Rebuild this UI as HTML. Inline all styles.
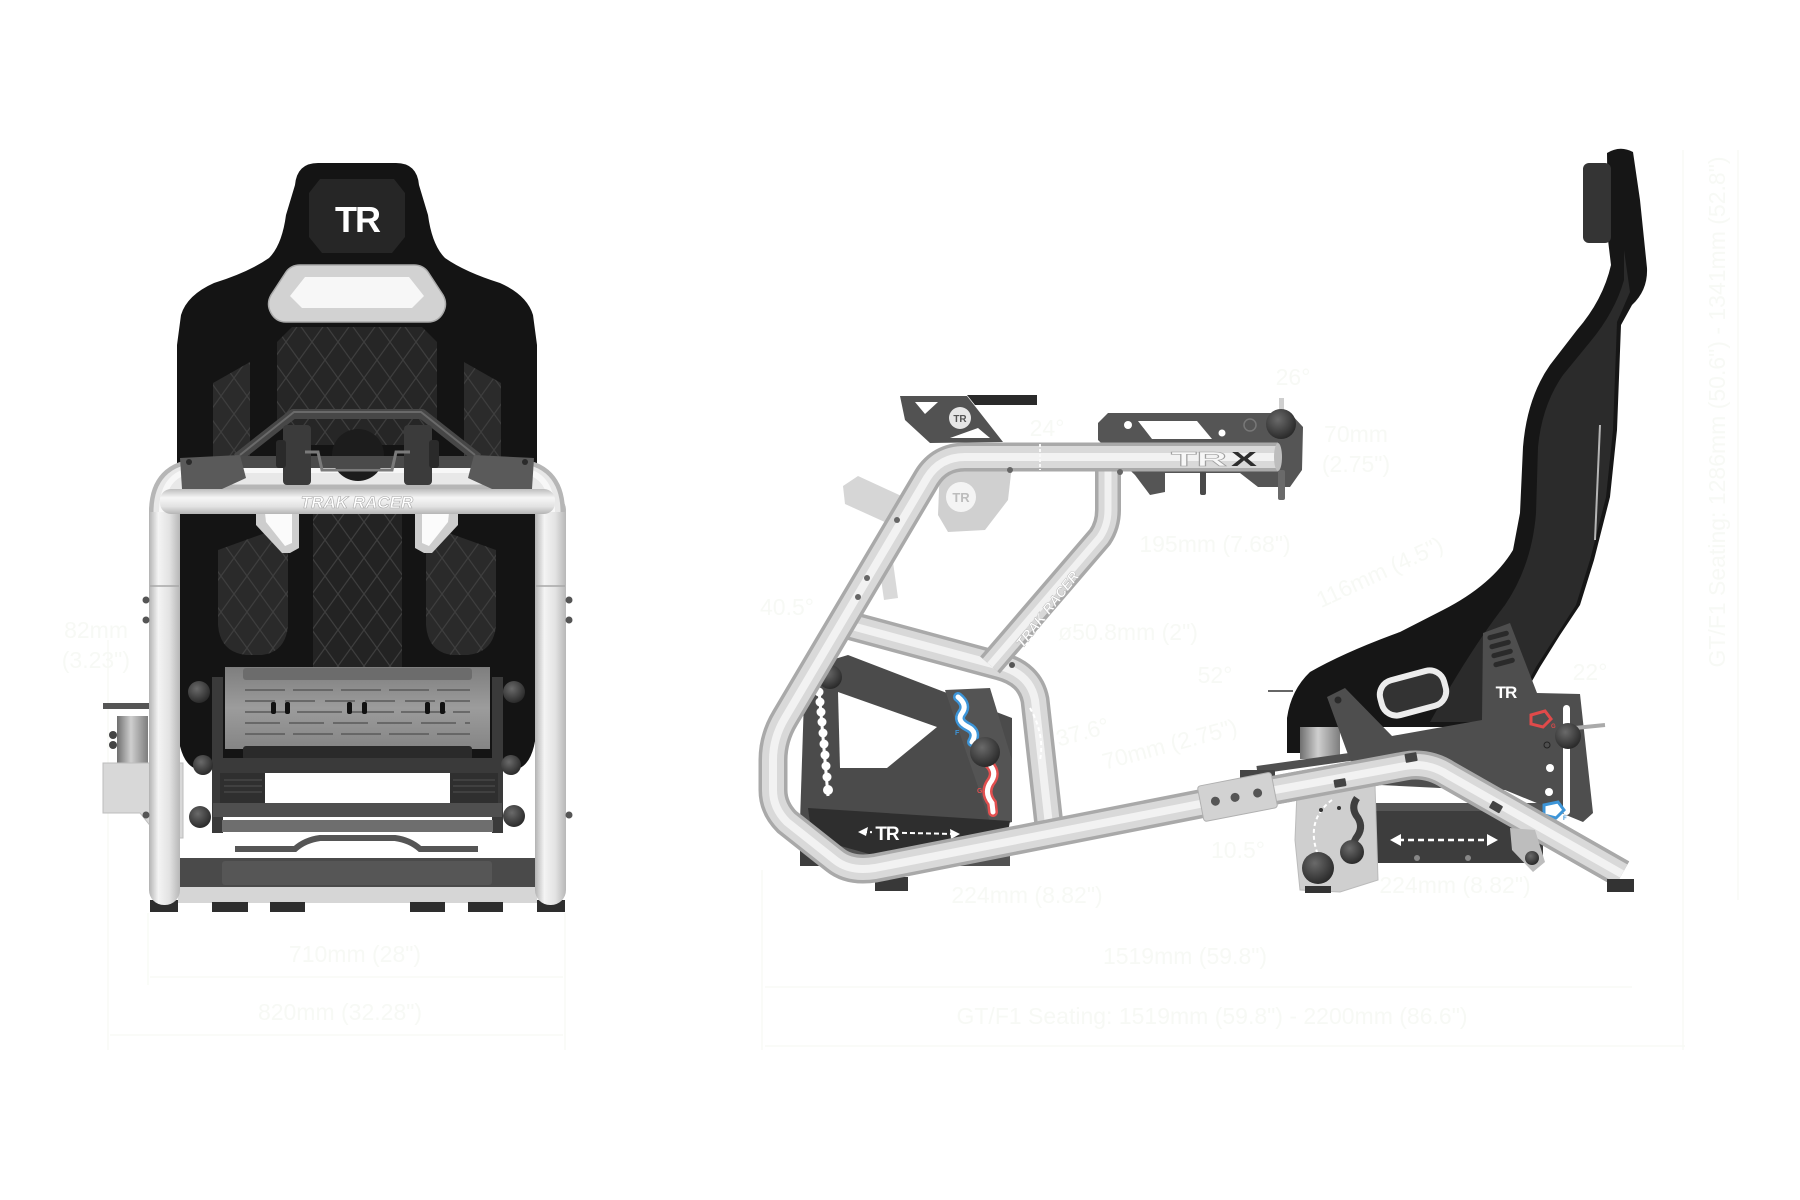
<!DOCTYPE html>
<html>
<head>
<meta charset="utf-8">
<style>
html,body{margin:0;padding:0;background:#ffffff;}
svg{display:block;}
.dim{font-family:"Liberation Sans",sans-serif;fill:#f7f9f5;}
</style>
</head>
<body>
<svg width="1800" height="1200" viewBox="0 0 1800 1200" xmlns="http://www.w3.org/2000/svg">
<defs>
  <linearGradient id="tv" x1="0" x2="1" y1="0" y2="0">
    <stop offset="0" stop-color="#b3b3b3"/><stop offset="0.3" stop-color="#f4f4f4"/>
    <stop offset="0.65" stop-color="#e3e3e3"/><stop offset="1" stop-color="#b7b7b7"/>
  </linearGradient>
  <linearGradient id="th" x1="0" x2="0" y1="0" y2="1">
    <stop offset="0" stop-color="#bdbdbd"/><stop offset="0.35" stop-color="#f6f6f6"/>
    <stop offset="0.7" stop-color="#e2e2e2"/><stop offset="1" stop-color="#b5b5b5"/>
  </linearGradient>
  <linearGradient id="cyl" x1="0" x2="1" y1="0" y2="0">
    <stop offset="0" stop-color="#6f6f6f"/><stop offset="0.45" stop-color="#cfcfcf"/><stop offset="1" stop-color="#7d7d7d"/>
  </linearGradient>
  <linearGradient id="plate" x1="0" x2="0" y1="0" y2="1">
    <stop offset="0" stop-color="#7e7e7e"/><stop offset="0.5" stop-color="#9c9c9c"/><stop offset="1" stop-color="#858585"/>
  </linearGradient>
  <radialGradient id="knob" cx="0.4" cy="0.35" r="0.7">
    <stop offset="0" stop-color="#6a6a6a"/><stop offset="1" stop-color="#262626"/>
  </radialGradient>
  <pattern id="q" width="26" height="36" patternUnits="userSpaceOnUse">
    <path d="M0,18 L13,0 L26,18 L13,36 Z" fill="none" stroke="#3e3e3e" stroke-width="1.2"/>
  </pattern>
  <path id="pA" d="M 1278,457 L 965,457 Q 940,457 927,478 L 785,718 Q 773,738 773,760 L 773,790 Q 773,808 787,822 L 835,860 Q 850,872 875,868 L 1210,802"/>
  <path id="pB" d="M 1108,458 L 1108,510 Q 1108,525 1100,537 L 990,665"/>
  <path id="pC" d="M 848,625 L 1000,666 Q 1030,674 1035,700 L 1050,834"/>
  <path id="pD" d="M 1205,803 L 1405,766 Q 1428,762 1448,775 L 1622,874"/>
</defs>

<rect width="1800" height="1200" fill="#ffffff"/>

<!-- ===================== FAINT DIMENSIONS ===================== -->
<g stroke="#f8faf6" stroke-width="1.5" fill="none">
  <line x1="108" y1="640" x2="108" y2="1050"/>
  <line x1="148" y1="913" x2="148" y2="985"/>
  <line x1="565" y1="913" x2="565" y2="1050"/>
  <line x1="150" y1="977" x2="563" y2="977"/>
  <line x1="110" y1="1035" x2="563" y2="1035"/>
  <line x1="762" y1="870" x2="762" y2="1050"/>
  <line x1="765" y1="987" x2="1632" y2="987"/>
  <line x1="765" y1="1046" x2="1685" y2="1046"/>
  <line x1="1683" y1="150" x2="1683" y2="1050"/>
  <line x1="1738" y1="150" x2="1738" y2="900"/>
</g>
<g class="dim" font-size="23">
  <text x="128" y="638" text-anchor="end">82mm</text>
  <text x="130" y="668" text-anchor="end">(3.23")</text>
  <text x="355" y="962" text-anchor="middle">710mm (28")</text>
  <text x="340" y="1020" text-anchor="middle">820mm (32.28")</text>
  <text x="1185" y="964" text-anchor="middle">1519mm (59.8")</text>
  <text x="1212" y="1024" text-anchor="middle">GT/F1 Seating: 1519mm (59.8") - 2200mm (86.6")</text>
  <text x="1293" y="385" text-anchor="middle">26°</text>
  <text x="1047" y="436" text-anchor="middle">24°</text>
  <text x="1356" y="442" text-anchor="middle">70mm</text>
  <text x="1356" y="472" text-anchor="middle">(2.75")</text>
  <text x="1215" y="552" text-anchor="middle">195mm (7.68")</text>
  <text x="1380" y="580" text-anchor="middle" transform="rotate(-25 1380 573)">116mm (4.5")</text>
  <text x="787" y="615" text-anchor="middle">40.5°</text>
  <text x="1128" y="640" text-anchor="middle">ø50.8mm (2")</text>
  <text x="1215" y="683" text-anchor="middle">52°</text>
  <text x="1082" y="740" text-anchor="middle" transform="rotate(-15 1082 730)">37.6°</text>
  <text x="1170" y="752" text-anchor="middle" transform="rotate(-15 1170 745)">70mm (2.75")</text>
  <text x="1238" y="858" text-anchor="middle">10.5°</text>
  <text x="1590" y="680" text-anchor="middle">22°</text>
  <text x="1027" y="903" text-anchor="middle">224mm (8.82")</text>
  <text x="1455" y="893" text-anchor="middle">224mm (8.82")</text>
  <text x="1733" y="420" text-anchor="middle" transform="rotate(-90 1725 420)">GT/F1 Seating: 1286mm (50.6") - 1341mm (52.8")</text>
</g>

<!-- ===================== FRONT VIEW ===================== -->
<g id="front">
  <path d="M 318,163 L 396,163 Q 417,163 419,185 L 428,215 Q 432,245 445,258 Q 465,272 500,283 Q 527,295 533,315 L 537,345 L 537,720 Q 536,760 520,768 L 194,768 Q 178,760 177,720 L 177,345 L 181,315 Q 187,295 214,283 Q 249,272 269,258 Q 282,245 286,215 L 295,185 Q 297,163 318,163 Z" fill="#141414"/>
  <polygon points="320,179 394,179 405,193 405,237 392,253 322,253 309,237 309,193" fill="#262626"/>
  <text x="357" y="232" text-anchor="middle" font-family="Liberation Sans, sans-serif" font-weight="bold" font-size="36" fill="#ffffff" letter-spacing="-2">TR</text>
  <path d="M 300,265 L 414,265 Q 423,265 428,272 L 443,295 Q 448,304 443,313 Q 438,322 428,322 L 286,322 Q 276,322 271,313 Q 266,304 271,295 L 286,272 Q 291,265 300,265 Z" fill="#d2d2d2" stroke="#aaaaaa" stroke-width="1.5"/>
  <path d="M 305,277 L 409,277 L 424,296 L 412,308 L 302,308 L 290,296 Z" fill="#f7f7f7"/>
  <path d="M 292,327 L 422,327 L 437,342 L 437,420 L 415,445 L 299,445 L 277,420 L 277,342 Z" fill="#262626"/>
  <path d="M 292,327 L 422,327 L 437,342 L 437,420 L 415,445 L 299,445 L 277,420 L 277,342 Z" fill="url(#q)"/>
  <path d="M 213,383 L 250,362 L 250,478 L 213,490 Z" fill="#2b2b2b"/>
  <path d="M 213,383 L 250,362 L 250,478 L 213,490 Z" fill="url(#q)"/>
  <path d="M 501,383 L 464,362 L 464,478 L 501,490 Z" fill="#2b2b2b"/>
  <path d="M 501,383 L 464,362 L 464,478 L 501,490 Z" fill="url(#q)"/>
  <rect x="313" y="513" width="89" height="154" fill="#232323"/>
  <rect x="313" y="513" width="89" height="154" fill="url(#q)"/>
  <path d="M 218,550 L 268,532 Q 280,532 288,545 L 288,625 Q 286,652 262,655 L 246,655 Q 220,652 218,625 Z" fill="#2a2a2a"/>
  <path d="M 218,550 L 268,532 Q 280,532 288,545 L 288,625 Q 286,652 262,655 L 246,655 Q 220,652 218,625 Z" fill="url(#q)"/>
  <path d="M 496,550 L 446,532 Q 434,532 426,545 L 426,625 Q 428,652 452,655 L 468,655 Q 494,652 496,625 Z" fill="#2a2a2a"/>
  <path d="M 496,550 L 446,532 Q 434,532 426,545 L 426,625 Q 428,652 452,655 L 468,655 Q 494,652 496,625 Z" fill="url(#q)"/>
  <polygon points="256,513 299,513 299,548 290,553 282,553 256,525" fill="#cdcdcd"/>
  <polygon points="265,513 292,513 292,543 285,546 266,522" fill="#fbfbfb"/>
  <polygon points="458,513 415,513 415,548 424,553 432,553 458,525" fill="#cdcdcd"/>
  <polygon points="449,513 422,513 422,543 429,546 448,522" fill="#fbfbfb"/>

  <rect x="212" y="677" width="11" height="156" fill="#3a3a3a"/>
  <rect x="492" y="677" width="11" height="156" fill="#3a3a3a"/>
  <rect x="225" y="667" width="265" height="82" fill="url(#plate)"/>
  <rect x="243" y="668" width="229" height="12" rx="3" fill="#6c6c6c"/>
  <g stroke="#5a5a5a" stroke-width="1.5">
    <line x1="245" y1="690" x2="470" y2="690" stroke-dasharray="40 8"/>
    <line x1="245" y1="701" x2="470" y2="701" stroke-dasharray="30 10"/>
    <line x1="245" y1="712" x2="470" y2="712" stroke-dasharray="45 7"/>
    <line x1="245" y1="723" x2="470" y2="723" stroke-dasharray="35 9"/>
    <line x1="245" y1="734" x2="470" y2="734" stroke-dasharray="40 8"/>
  </g>
  <g fill="#111">
    <rect x="271" y="702" width="5" height="12" rx="2"/><rect x="285" y="702" width="5" height="12" rx="2"/>
    <rect x="347" y="702" width="5" height="12" rx="2"/><rect x="362" y="702" width="5" height="12" rx="2"/>
    <rect x="425" y="702" width="5" height="12" rx="2"/><rect x="440" y="702" width="5" height="12" rx="2"/>
  </g>
  <rect x="243" y="746" width="229" height="14" rx="3" fill="#2a2a2a"/>
  <rect x="213" y="758" width="289" height="15" fill="#3a3a3a"/>
  <rect x="220" y="773" width="45" height="30" fill="#2f2f2f"/>
  <rect x="450" y="773" width="48" height="30" fill="#2f2f2f"/>
  <g stroke="#4a4a4a" stroke-width="1.2">
    <line x1="224" y1="780" x2="262" y2="780"/><line x1="224" y1="786" x2="262" y2="786"/><line x1="224" y1="792" x2="262" y2="792"/>
    <line x1="453" y1="780" x2="495" y2="780"/><line x1="453" y1="786" x2="495" y2="786"/><line x1="453" y1="792" x2="495" y2="792"/>
  </g>
  <rect x="213" y="803" width="289" height="14" fill="#4f4f4f"/>
  <rect x="222" y="820" width="271" height="12" fill="#6e6e6e"/>
  <path d="M 235,849 L 295,849 Q 305,840 320,838 L 395,838 Q 410,840 420,849 L 478,849" stroke="#555" stroke-width="6" fill="none"/>
  <g fill="url(#knob)">
    <circle cx="199" cy="692" r="11"/><circle cx="514" cy="692" r="11"/>
    <circle cx="203" cy="765" r="10"/><circle cx="511" cy="765" r="10"/>
    <circle cx="200" cy="817" r="11"/><circle cx="514" cy="816" r="11"/>
  </g>

  <rect x="170" y="858" width="367" height="29" fill="#4a4a4a"/>
  <rect x="222" y="861" width="270" height="24" rx="3" fill="#565656"/>
  <rect x="178" y="887" width="359" height="16" fill="#d6d6d6"/>
  <g fill="#2e2e2e">
    <rect x="150" y="900" width="28" height="12"/><rect x="537" y="900" width="28" height="12"/>
    <rect x="212" y="902" width="36" height="10"/><rect x="270" y="902" width="35" height="10"/>
    <rect x="410" y="902" width="35" height="10"/><rect x="468" y="902" width="35" height="10"/>
  </g>

  <rect x="103" y="703" width="48" height="6" fill="#555"/>
  <rect x="117" y="716" width="31" height="68" fill="url(#cyl)"/>
  <circle cx="113" cy="735" r="4" fill="#444"/><circle cx="113" cy="745" r="4" fill="#444"/>
  <polygon points="103,763 183,763 183,838 160,838 140,813 103,813" fill="#d8d8d8" stroke="#bdbdbd" stroke-width="1"/>

  <rect x="149" y="495" width="31" height="410" rx="15" fill="url(#tv)"/>
  <rect x="535" y="495" width="31" height="410" rx="15" fill="url(#tv)"/>
  <g stroke="#a8a8a8" stroke-width="1.5">
    <line x1="150" y1="586" x2="179" y2="586"/><line x1="536" y1="586" x2="565" y2="586"/>
  </g>
  <g fill="#555">
    <circle cx="146" cy="600" r="3.5"/><circle cx="146" cy="620" r="3.5"/>
    <circle cx="569" cy="600" r="3.5"/><circle cx="569" cy="620" r="3.5"/>
    <circle cx="146" cy="815" r="3.5"/><circle cx="569" cy="815" r="3.5"/>
  </g>
  <path d="M 164,512 Q 164,474 200,474 L 514,474 Q 550,474 550,512" fill="none" stroke="#b6b6b6" stroke-width="30"/>
  <path d="M 164,512 Q 164,474 200,474 L 514,474 Q 550,474 550,512" fill="none" stroke="#e8e8e8" stroke-width="21"/>
  <path d="M 162,512 Q 162,470 200,470 L 514,470 Q 552,470 552,512" fill="none" stroke="#f7f7f7" stroke-width="6"/>

  <circle cx="358" cy="455" r="26" fill="#1c1c1c"/>
  <path d="M 237,458 L 293,414 L 422,414 L 478,458" fill="none" stroke="#474747" stroke-width="10" stroke-linejoin="round"/>
  <path d="M 240,455 L 294,412 L 421,412 L 475,455" fill="none" stroke="#6a6a6a" stroke-width="2"/>
  <rect x="233" y="456" width="250" height="12" fill="#4a4a4a"/>
  <rect x="283" y="425" width="28" height="60" rx="4" fill="#3b3b3b"/>
  <rect x="404" y="425" width="28" height="60" rx="4" fill="#3b3b3b"/>
  <rect x="276" y="440" width="10" height="28" rx="3" fill="#2a2a2a"/>
  <rect x="429" y="440" width="10" height="28" rx="3" fill="#2a2a2a"/>
  <path d="M 305,452 L 318,452 L 322,470 L 392,470 L 396,452 L 410,452" stroke="#7a7a7a" stroke-width="3" fill="none"/>
  <polygon points="180,458 240,455 246,478 222,489 182,489" fill="#5a5a5a"/>
  <polygon points="534,458 474,455 468,478 492,489 532,489" fill="#5a5a5a"/>
  <circle cx="189" cy="462" r="3" fill="#2a2a2a"/><circle cx="525" cy="462" r="3" fill="#2a2a2a"/>

  <rect x="160" y="489" width="395" height="25" rx="11" fill="url(#th)"/>
  <text x="357" y="508" text-anchor="middle" font-family="Liberation Sans, sans-serif" font-weight="bold" font-style="italic" font-size="17" fill="#ffffff" stroke="#a9a9a9" stroke-width="0.6">TRAK RACER</text>
</g>

<!-- ===================== SIDE VIEW ===================== -->
<g id="side">
  <rect x="800" y="838" width="210" height="28" fill="#525252"/>
  <rect x="800" y="828" width="18" height="38" fill="#3d3d3d"/>
  <rect x="875" y="877" width="33" height="14" fill="#383838"/>

  <polygon points="805,668 848,655 1012,718 1012,822 880,856 800,822" fill="#4b4b4b"/>
  <polygon points="838,692 937,727 887,768 840,768" fill="#ffffff"/>
  <polygon points="945,690 990,688 1012,760 1012,822 990,822" fill="#545454"/>
  <polygon points="808,808 1010,821 1008,832 880,857 812,838" fill="#2e2e2e"/>
  <line x1="819" y1="690" x2="828" y2="796" stroke="#ffffff" stroke-width="3"/>
  <g fill="#ffffff">
    <circle cx="819" cy="692" r="4.5"/><circle cx="820" cy="702" r="4.5"/><circle cx="821" cy="712" r="4.5"/>
    <circle cx="822" cy="722" r="4.5"/><circle cx="823" cy="733" r="4.5"/><circle cx="824" cy="744" r="4.5"/>
    <circle cx="825" cy="755" r="4.5"/><circle cx="826" cy="766" r="4.5"/><circle cx="827" cy="777" r="4.5"/>
    <circle cx="828" cy="790" r="5"/>
  </g>
  <circle cx="830" cy="677" r="12" fill="url(#knob)"/>
  <path d="M 958,697 Q 968,705 962,713 Q 956,721 968,727 Q 978,732 972,742" stroke="#3d95d8" stroke-width="10" fill="none" stroke-linecap="round"/>
  <path d="M 958,697 Q 968,705 962,713 Q 956,721 968,727 Q 978,732 972,742" stroke="#ffffff" stroke-width="5" fill="none" stroke-linecap="round"/>
  <path d="M 989,764 Q 998,773 990,783 Q 984,793 992,803 L 993,812" stroke="#e25050" stroke-width="10" fill="none" stroke-linecap="round"/>
  <path d="M 989,764 Q 998,773 990,783 Q 984,793 992,803 L 993,812" stroke="#ffffff" stroke-width="5" fill="none" stroke-linecap="round"/>
  <text x="955" y="735" font-family="Liberation Sans, sans-serif" font-weight="bold" font-size="7" fill="#3d95d8">F</text>
  <text x="977" y="793" font-family="Liberation Sans, sans-serif" font-weight="bold" font-size="7" fill="#e25050">G</text>
  <circle cx="985" cy="752" r="15" fill="url(#knob)"/>
  <line x1="862" y1="832" x2="955" y2="834" stroke="#ffffff" stroke-width="2" stroke-dasharray="5 3"/>
  <polygon points="858,832 868,827 866,836" fill="#ffffff"/>
  <polygon points="960,834 950,829 951,839" fill="#ffffff"/>
  <rect x="872" y="823" width="30" height="18" fill="#2e2e2e"/>
  <text x="887" y="840" text-anchor="middle" font-family="Liberation Sans, sans-serif" font-weight="bold" font-size="19" fill="#ffffff" letter-spacing="-1">TR</text>

  <g fill="none" stroke-linejoin="round">
    <use href="#pC" stroke="#a9a9a9" stroke-width="29"/>
    <use href="#pC" stroke="#d8d8d8" stroke-width="22"/>
    <use href="#pC" stroke="#f1f1f1" stroke-width="8"/>
    <use href="#pB" stroke="#a9a9a9" stroke-width="26"/>
    <use href="#pB" stroke="#d8d8d8" stroke-width="19"/>
    <use href="#pB" stroke="#f1f1f1" stroke-width="7"/>
  </g>
  <text x="1048" y="614" text-anchor="middle" font-family="Liberation Sans, sans-serif" font-weight="bold" font-style="italic" font-size="14" fill="#ffffff" stroke="#b0b0b0" stroke-width="0.4" transform="rotate(-52 1048 610)">TRAK RACER</text>
  <path d="M 1030,708 Q 1045,735 1040,760" stroke="#ffffff" stroke-width="2" stroke-dasharray="4 3" fill="none"/>
  <circle cx="1012" cy="665" r="3" fill="#555"/>

  <polygon points="900,396 967,396 1003,442 930,443 905,420" fill="#525252"/>
  <polygon points="967,395 1037,395 1037,405 975,405" fill="#2a2a2a"/>
  <polygon points="915,402 938,402 925,414" fill="#ffffff"/>
  <polygon points="950,438 990,438 978,428" fill="#ffffff"/>
  <circle cx="960" cy="418" r="11" fill="#e6e6e6"/>
  <text x="960" y="422" text-anchor="middle" font-family="Liberation Sans, sans-serif" font-weight="bold" font-size="10" fill="#555">TR</text>
  <polygon points="940,465 1012,465 1008,500 985,530 948,532 938,515" fill="#d0d0d0"/>
  <circle cx="961" cy="497" r="15" fill="#f4f4f4"/>
  <text x="961" y="502" text-anchor="middle" font-family="Liberation Sans, sans-serif" font-weight="bold" font-size="13" fill="#bdbdbd">TR</text>
  <polygon points="843,486 858,476 910,500 910,522 898,528 845,504" fill="#d6d6d6"/>
  <polygon points="878,558 893,562 898,598 884,600" fill="#d9d9d9"/>

  <polygon points="1098,423 1108,413 1290,413 1303,427 1302,470 1290,487 1258,487 1240,473 1165,473 1165,492 1150,495 1135,475 1098,440" fill="#555555"/>
  <polygon points="1138,421 1197,421 1212,439 1152,439" fill="#ffffff"/>
  <circle cx="1128" cy="425" r="4" fill="#ffffff"/>
  <circle cx="1222" cy="433" r="3.5" fill="#ffffff"/>
  <circle cx="1250" cy="425" r="6" fill="none" stroke="#777" stroke-width="1.5"/>
  <rect x="1279" y="398" width="5" height="14" fill="#cfcfcf"/>
  <rect x="1278" y="470" width="7" height="30" rx="2" fill="#6a6a6a"/>
  <rect x="1200" y="470" width="6" height="25" rx="2" fill="#4a4a4a"/>

  <g fill="none" stroke-linejoin="round">
    <use href="#pA" stroke="#a9a9a9" stroke-width="29"/>
    <use href="#pA" stroke="#d9d9d9" stroke-width="22"/>
    <use href="#pA" stroke="#f2f2f2" stroke-width="8"/>
  </g>
  <ellipse cx="1278" cy="457" rx="4" ry="14" fill="#bdbdbd"/>
  <line x1="1040" y1="444" x2="1040" y2="470" stroke="#f8f8f8" stroke-width="2" stroke-dasharray="3 2"/>
  <circle cx="1281" cy="424" r="15" fill="url(#knob)"/>
  <text x="1171" y="466" font-family="Liberation Sans, sans-serif" font-weight="bold" font-size="20" fill="#f7f7f7" stroke="#a0a0a0" stroke-width="0.6" textLength="56" lengthAdjust="spacingAndGlyphs">TR</text>
  <text x="1231" y="466" font-family="Liberation Sans, sans-serif" font-weight="bold" font-size="20" fill="#2e2e2e" textLength="26" lengthAdjust="spacingAndGlyphs">X</text>
  <g fill="#666">
    <circle cx="897" cy="520" r="3"/><circle cx="867" cy="578" r="3"/><circle cx="858" cy="597" r="3"/>
    <circle cx="1120" cy="472" r="3"/><circle cx="1010" cy="470" r="3"/>
  </g>

  <g fill="none" stroke-linejoin="round">
    <use href="#pD" stroke="#a9a9a9" stroke-width="29"/>
    <use href="#pD" stroke="#d9d9d9" stroke-width="22"/>
    <use href="#pD" stroke="#f2f2f2" stroke-width="8"/>
  </g>
</g>

<!-- ===================== SIDE SEAT ===================== -->
<g id="seat">
  <path d="M 1607,153 Q 1620,145 1633,152 L 1640,200 L 1647,268 Q 1648,290 1632,305 L 1621,325 L 1617,430 L 1610,497 L 1594,560 L 1580,605 L 1560,635 L 1540,667 L 1527,690 L 1522,727 L 1300,727 L 1300,753 L 1287,753 L 1287,718 Q 1291,690 1310,672 Q 1345,652 1400,632 L 1443,610 Q 1492,585 1513,550 L 1520,513 L 1523,447 Q 1527,398 1550,365 L 1577,330 Q 1603,300 1611,265 L 1608,240 Z" fill="#161616"/>
  <path d="M 1624,250 L 1630,292 L 1617,322 L 1613,430 L 1606,497 L 1590,560 L 1576,605 L 1556,636 L 1536,667 L 1524,690 L 1520,722 L 1430,722 Q 1470,650 1505,605 Q 1532,565 1536,513 L 1538,447 Q 1542,405 1563,375 L 1590,342 Q 1615,312 1624,280 Z" fill="#2b2b2b"/>
  <rect x="1583" y="163" width="28" height="80" rx="6" fill="#343434"/>
  <line x1="1600" y1="425" x2="1595" y2="540" stroke="#b5b5b5" stroke-width="2"/>
  <rect x="1300" y="727" width="40" height="32" fill="url(#cyl)"/>
  <line x1="1268" y1="691" x2="1293" y2="691" stroke="#666" stroke-width="2"/>
  <line x1="1257" y1="770" x2="1527" y2="732" stroke="#505050" stroke-width="8"/>
  <rect x="1240" y="770" width="35" height="12" fill="#454545"/>
  <rect x="1367" y="803" width="176" height="60" fill="#3d3d3d"/>
  <rect x="1367" y="803" width="176" height="8" fill="#555"/>
  <line x1="1398" y1="840" x2="1490" y2="840" stroke="#ffffff" stroke-width="2.5" stroke-dasharray="6 4"/>
  <polygon points="1390,840 1401,834 1401,846" fill="#ffffff"/>
  <polygon points="1498,840 1487,834 1487,846" fill="#ffffff"/>
  <circle cx="1417" cy="858" r="3" fill="#888"/><circle cx="1468" cy="858" r="3" fill="#888"/>
  <polygon points="1297,792 1375,785 1378,880 1340,892 1300,890 1295,840" fill="#cfcfcf" stroke="#bbbbbb" stroke-width="1"/>
  <path d="M 1357,798 Q 1350,808 1358,818 Q 1364,828 1356,838 Q 1350,848 1358,858" stroke="#3e3e3e" stroke-width="7" fill="none"/>
  <path d="M 1332,800 Q 1305,820 1318,855" stroke="#ffffff" stroke-width="2" stroke-dasharray="4 3" fill="none"/>
  <circle cx="1321" cy="810" r="2" fill="#333"/><circle cx="1339" cy="808" r="2" fill="#333"/>
  <polygon points="1327,697 1345,688 1392,736 1482,720 1483,633 1510,623 1537,693 1580,694 1593,813 1583,822 1505,790 1440,788 1380,785 1350,760" fill="#4e4e4e"/>
  <g fill="#2a2a2a">
    <rect x="1487" y="633" width="22" height="5" rx="2.5" transform="rotate(-15 1498 635)"/>
    <rect x="1489" y="642" width="22" height="5" rx="2.5" transform="rotate(-15 1500 644)"/>
    <rect x="1491" y="651" width="22" height="5" rx="2.5" transform="rotate(-15 1502 653)"/>
    <rect x="1493" y="660" width="22" height="5" rx="2.5" transform="rotate(-15 1504 662)"/>
  </g>
  <circle cx="1338" cy="700" r="3.5" fill="#2a2a2a"/>
  <rect x="1380" y="675" width="66" height="36" rx="15" fill="#333" stroke="#ececec" stroke-width="6" transform="rotate(-15 1413 693)"/>
  <text x="1506" y="698" text-anchor="middle" font-family="Liberation Sans, sans-serif" font-weight="bold" font-size="17" fill="#ffffff" letter-spacing="-1">TR</text>
  <rect x="1563" y="705" width="7" height="110" rx="3.5" fill="#ffffff"/>
  <path d="M 1531,715 L 1545,711 L 1551,719 L 1543,727 L 1531,724 Z" fill="none" stroke="#e04a4a" stroke-width="3"/>
  <text x="1551" y="728" font-family="Liberation Sans, sans-serif" font-weight="bold" font-size="6" fill="#e04a4a">G</text>
  <circle cx="1547" cy="745" r="3" fill="none" stroke="#222" stroke-width="1"/>
  <circle cx="1550" cy="768" r="4" fill="#ffffff"/><circle cx="1549" cy="792" r="4" fill="#ffffff"/>
  <path d="M 1544,805 L 1558,802 L 1564,810 L 1556,818 L 1544,815 Z" fill="#ffffff" stroke="#3d95d8" stroke-width="3"/>
  <text x="1563" y="820" font-family="Liberation Sans, sans-serif" font-weight="bold" font-size="6" fill="#3d95d8">F</text>
  <line x1="1575" y1="728" x2="1605" y2="725" stroke="#aaa" stroke-width="4"/>
  <circle cx="1568" cy="736" r="13" fill="url(#knob)"/>
  <g fill="none" stroke-linejoin="round">
    <use href="#pD" stroke="#a9a9a9" stroke-width="29"/>
    <use href="#pD" stroke="#d9d9d9" stroke-width="22"/>
    <use href="#pD" stroke="#f2f2f2" stroke-width="8"/>
  </g>
  <rect x="1334" y="779" width="12" height="8" rx="1" fill="#444" transform="rotate(-10 1340 783)"/>
  <rect x="1490" y="803" width="12" height="8" rx="1" fill="#444" transform="rotate(30 1496 807)"/>
  <polygon points="1510,828 1535,830 1545,862 1533,872 1512,850" fill="#bdbdbd"/>
  <circle cx="1532" cy="858" r="7" fill="url(#knob)"/>
  <circle cx="1318" cy="868" r="16" fill="url(#knob)"/>
  <circle cx="1352" cy="852" r="12" fill="url(#knob)"/>
  <rect x="1305" y="886" width="26" height="7" fill="#333"/>
  <rect x="1607" y="879" width="27" height="13" fill="#333"/>
  <g transform="rotate(-11 1237 797)">
    <rect x="1200" y="779" width="75" height="36" rx="3" fill="#d2d2d2" stroke="#b0b0b0" stroke-width="1"/>
    <circle cx="1215" cy="797" r="4.5" fill="#555"/>
    <circle cx="1235" cy="797" r="4.5" fill="#555"/>
    <circle cx="1258" cy="797" r="4.5" fill="#555"/>
  </g>
  <rect x="1405" y="753" width="12" height="9" rx="1" fill="#444" transform="rotate(-10 1411 757)"/>
</g>
</svg>
</body>
</html>
